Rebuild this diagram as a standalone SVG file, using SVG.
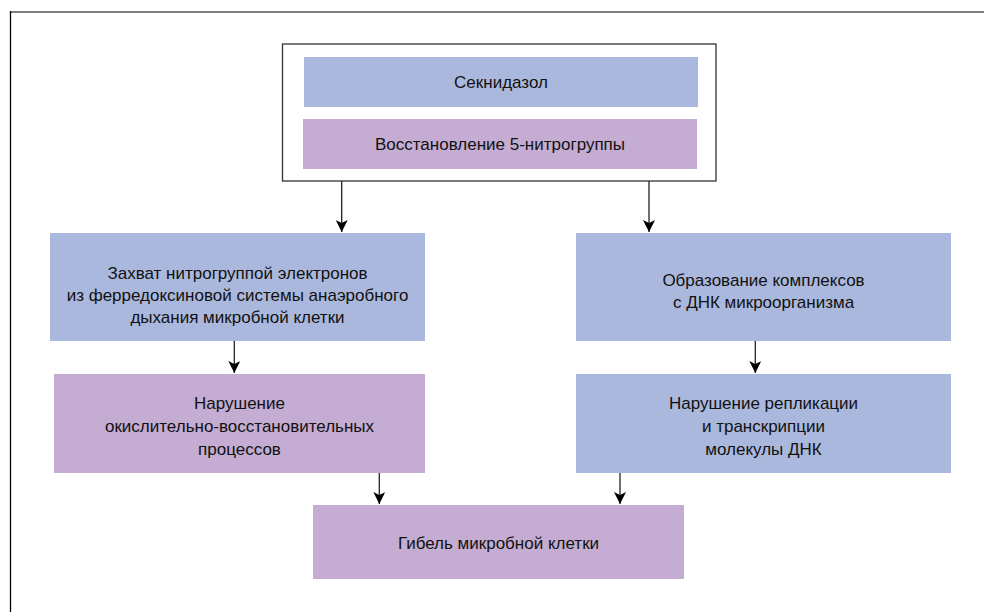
<svg xmlns="http://www.w3.org/2000/svg" width="984" height="612" viewBox="0 0 984 612">
<defs>
<marker id="arr" markerWidth="14" markerHeight="12" viewBox="0 0 14 12" refX="14" refY="6" orient="auto" markerUnits="userSpaceOnUse">
<path d="M2,0 L14,6 L2,12 L5,6 Z" fill="#000"/>
</marker>
<style>
.blue{fill:#abb8dd}
.purple{fill:#c4acd2}
.t{font-family:"Futura","Liberation Sans","DejaVu Sans",sans-serif;font-size:17px;fill:#111;text-anchor:middle}
.c{stroke:#222;stroke-width:1.3;fill:none;marker-end:url(#arr)}
</style>
</defs>
<rect width="984" height="612" fill="#fff"/>
<line x1="10" y1="12" x2="984" y2="12" stroke="#808080" stroke-width="2"/>
<line x1="10.5" y1="11" x2="10.5" y2="612" stroke="#000" stroke-width="1.3"/>

<g id="top-group">
<rect x="282.5" y="44" width="433.5" height="137" fill="#fff" stroke="#333" stroke-width="1.3"/>
</g>
<g id="n1">
<rect class="blue" x="304" y="57" width="394" height="50"/>
<text class="t" x="501" y="88">Секнидазол</text>
</g>
<g id="n2">
<rect class="purple" x="303" y="119" width="394" height="50"/>
<text class="t" x="500" y="150">Восстановление 5-нитрогруппы</text>
</g>
<g id="n3">
<rect class="blue" x="50" y="233" width="375" height="108"/>
<text class="t" x="237.5" y="279">Захват нитрогруппой электронов</text>
<text class="t" x="237.5" y="301">из ферредоксиновой системы анаэробного</text>
<text class="t" x="237.5" y="323">дыхания микробной клетки</text>
</g>
<g id="n4">
<rect class="blue" x="576" y="233" width="375" height="108"/>
<text class="t" x="763.5" y="286">Образование комплексов</text>
<text class="t" x="763.5" y="308">с ДНК микроорганизма</text>
</g>
<g id="n5">
<rect class="purple" x="54" y="374" width="371" height="99"/>
<text class="t" x="239.5" y="409">Нарушение</text>
<text class="t" x="239.5" y="432">окислительно-восстановительных</text>
<text class="t" x="239.5" y="455">процессов</text>
</g>
<g id="n6">
<rect class="blue" x="576" y="374" width="375" height="99"/>
<text class="t" x="763.5" y="409">Нарушение репликации</text>
<text class="t" x="763.5" y="432">и транскрипции</text>
<text class="t" x="763.5" y="455">молекулы ДНК</text>
</g>
<g id="n7">
<rect class="purple" x="313" y="505" width="371" height="74"/>
<text class="t" x="498.5" y="549">Гибель микробной клетки</text>
</g>

<g id="connectors">
<line class="c" x1="341.7" y1="181" x2="341.7" y2="232"/>
<line class="c" x1="649" y1="181" x2="649" y2="232"/>
<line class="c" x1="234.3" y1="341" x2="234.3" y2="373"/>
<line class="c" x1="755.3" y1="341" x2="755.3" y2="373"/>
<line class="c" x1="379.3" y1="473" x2="379.3" y2="504"/>
<line class="c" x1="620" y1="473" x2="620" y2="504"/>
</g>
</svg>
